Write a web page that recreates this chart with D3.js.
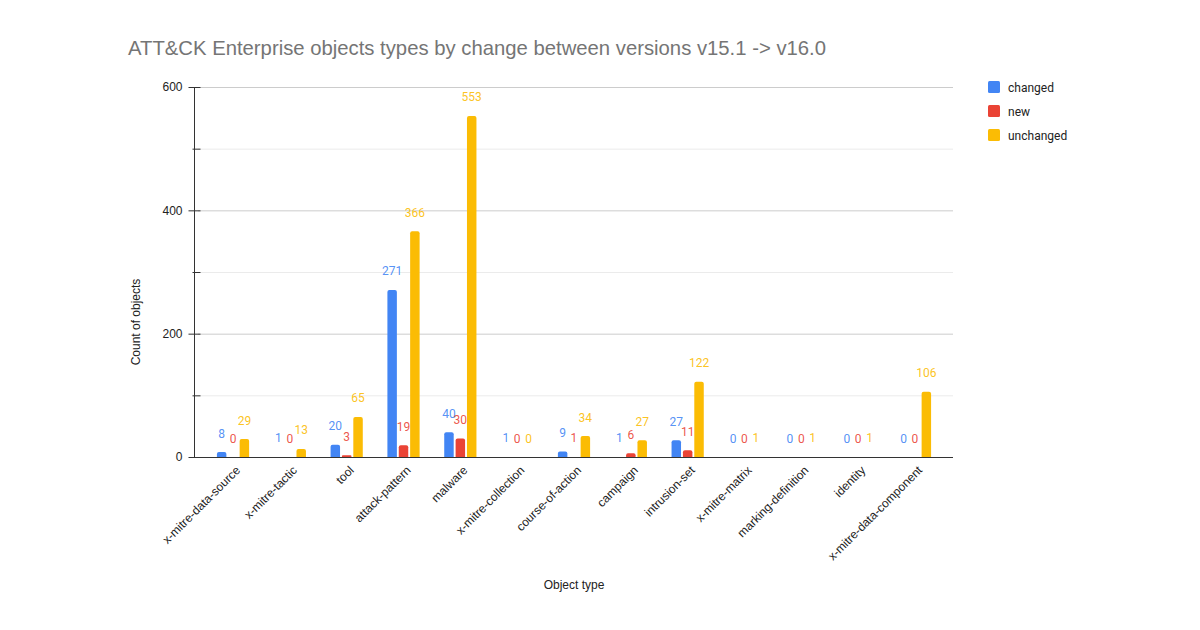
<!DOCTYPE html>
<html><head><meta charset="utf-8">
<script src="https://cdn.jsdelivr.net/npm/d3@7"></script>
<style>body{margin:0;background:#fff}svg{display:block}</style>
</head><body><svg id="c" width="1200" height="630"></svg>
<script>
const categories = ["x-mitre-data-source","x-mitre-tactic","tool","attack-pattern","malware","x-mitre-collection","course-of-action","campaign","intrusion-set","x-mitre-matrix","marking-definition","identity","x-mitre-data-component"];
const seriesNames = ["changed","new","unchanged"];
const changed   = [8,1,20,271,40,1,9,1,27,0,0,0,0];
const newVals   = [0,0,3,19,30,0,1,6,11,0,0,0,0];
const unchanged = [29,13,65,366,553,0,34,27,122,1,1,1,106];
const seriesValues = [changed,newVals,unchanged];
const colors = ["#4285F4","#EA4335","#FBBC04"];
const yTicks = [0,200,400,600];
const yMinor = [100,300,500];

const svg = d3.select("#c");
const sansA = "'Liberation Sans', Arial, sans-serif";
const sansR = "Roboto, 'Liberation Sans', sans-serif";

const x0 = d3.scaleBand().domain(categories).range([203.6, 942.4]).paddingInner(0).paddingOuter(0);
const x1 = d3.scaleBand().domain(seriesNames).range([x0.bandwidth()/2 - 17, x0.bandwidth()/2 + 19]).padding(0.1667);
const y = d3.scaleLinear().domain([0,600]).range([457,87]);

// title
svg.append("text").attr("x",128).attr("y",55).attr("font-family",sansA).attr("font-size",20.3).attr("fill","#757575")
  .text("ATT&CK Enterprise objects types by change between versions v15.1 -> v16.0");

// gridlines
const g = svg.append("g");
g.selectAll(".minor").data(yMinor).join("line").attr("x1",198).attr("x2",953)
  .attr("y1",d=>y(d)+0.5).attr("y2",d=>y(d)+0.5).attr("stroke","#ebebeb");
g.selectAll(".major").data(yTicks.filter(d=>d>0)).join("line").attr("x1",198).attr("x2",953)
  .attr("y1",d=>y(d)+0.5).attr("y2",d=>y(d)+0.5).attr("stroke","#cccccc");

// y axis
const yAxis = d3.axisLeft(y).tickValues(yTicks).tickSize(6).tickPadding(6);
const ya = svg.append("g").attr("transform","translate(194.5,0)").call(yAxis);
ya.select(".domain").attr("stroke","#333").attr("d","M0,87V457");
ya.selectAll(".tick line").attr("stroke","#333").attr("x2",-6).attr("x1",6);
ya.selectAll(".tick text").attr("font-family",sansA).attr("font-size",12).attr("fill","#222").attr("x",-12);
const yAxisMinor = d3.axisLeft(y).tickValues(yMinor).tickSize(2).tickFormat("");
const ym = svg.append("g").attr("transform","translate(194.5,0)").call(yAxisMinor);
ym.select(".domain").remove();
ym.selectAll(".tick line").attr("stroke","#333").attr("x1",6).attr("x2",-2);

// bars
const groups = svg.append("g").selectAll("g").data(categories).join("g")
  .attr("transform",d=>`translate(${x0(d)},0)`);
groups.selectAll("path").data((d,i)=>seriesNames.map((s,j)=>({s,j,v:seriesValues[j][i]})))
  .join("path")
  .attr("fill",d=>colors[d.j])
  .attr("d",d=>{
    const xl = x1(d.s), w = x1.bandwidth(), yt = y(d.v), yb = y(0);
    if(yb-yt < 1) return "";   // sub-pixel bars are not visible in the reference
    const r = Math.min(2, (yb-yt)/2);
    return `M${xl},${yb}V${yt+r}Q${xl},${yt} ${xl+r},${yt}H${xl+w-r}Q${xl+w},${yt} ${xl+w},${yt+r}V${yb}Z`;
  });
groups.selectAll("text").data((d,i)=>seriesNames.map((s,j)=>({s,j,v:seriesValues[j][i]})))
  .join("text")
  .attr("x",d=>x1(d.s)+x1.bandwidth()/2)
  .attr("y",d=>y(d.v)-14.5)
  .attr("text-anchor","middle").attr("font-family",sansR).attr("font-size",12)
  .attr("fill",d=>colors[d.j]).attr("fill-opacity",0.9)
  .text(d=>d.v);

// x axis baseline
svg.append("line").attr("x1",194).attr("x2",953).attr("y1",457.5).attr("y2",457.5).attr("stroke","#333");

// x labels
const xAxis = d3.axisBottom(x0).tickSize(0);
const xa = svg.append("g").attr("transform","translate(0,457)").call(xAxis);
xa.select(".domain").remove();
xa.selectAll(".tick text").attr("font-family",sansA).attr("font-size",12).attr("fill","#222")
  .attr("text-anchor","end").attr("dy",0).attr("y",0)
  .attr("transform","translate(9,14) rotate(-45)");

// axis titles
svg.append("text").attr("transform","translate(140,322) rotate(-90)").attr("text-anchor","middle")
  .attr("font-family",sansA).attr("font-size",12).attr("fill","#222").text("Count of objects");
svg.append("text").attr("x",574).attr("y",589).attr("text-anchor","middle")
  .attr("font-family",sansA).attr("font-size",12).attr("fill","#222").text("Object type");

// legend
const lg = svg.append("g").selectAll("g").data(seriesNames).join("g")
  .attr("transform",(d,i)=>`translate(988,${81+i*24})`);
lg.append("rect").attr("width",12).attr("height",12).attr("rx",1.5).attr("fill",(d,i)=>colors[i]);
lg.append("text").attr("x",20).attr("y",10.5).attr("font-family",sansR).attr("font-size",12).attr("fill","#222").text(d=>d);
</script></body></html>
